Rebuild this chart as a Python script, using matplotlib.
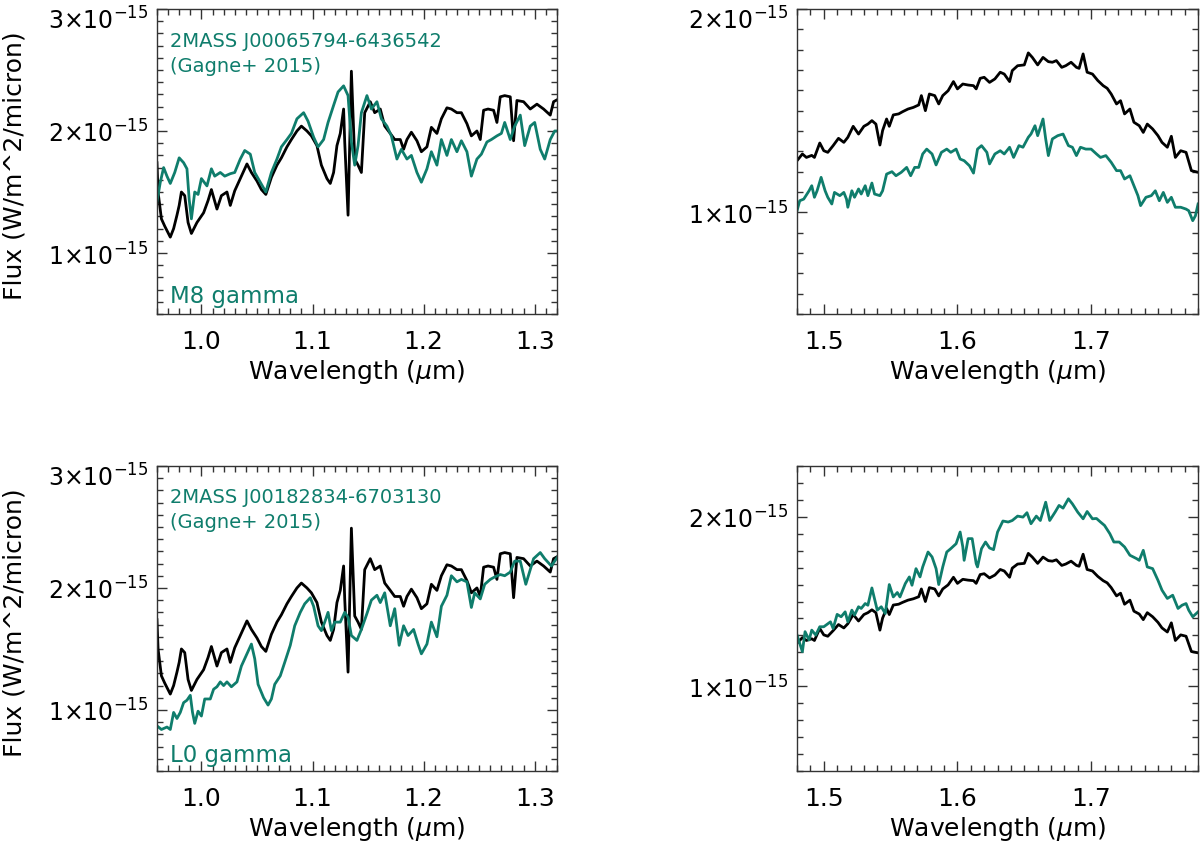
import numpy as np
import matplotlib

matplotlib.use("Agg")
import matplotlib.pyplot as plt
from matplotlib.ticker import MultipleLocator, FixedLocator, FuncFormatter

plt.rcParams.update({
    "font.family": "DejaVu Sans",
    "mathtext.fontset": "dejavusans",
    "font.size": 17,
})

TEAL = "#0f7d6c"
SCALE = 1e-15

# --- J band, target (black) ---
wl_j_obj = [0.960, 0.961, 0.964, 0.967, 0.972, 0.975, 0.978, 0.980, 0.982, 0.985,
            0.988, 0.991, 0.996, 1.002, 1.006, 1.009, 1.014, 1.018, 1.023, 1.026,
            1.030, 1.035, 1.041, 1.045, 1.050, 1.054, 1.058, 1.063, 1.068, 1.072,
            1.077, 1.081, 1.086, 1.090, 1.095, 1.099, 1.104, 1.108, 1.113, 1.116,
            1.119, 1.122, 1.125, 1.128, 1.129, 1.132, 1.135, 1.138, 1.141, 1.144,
            1.147, 1.152, 1.156, 1.161, 1.165, 1.170, 1.174, 1.179, 1.182, 1.185,
            1.189, 1.194, 1.198, 1.203, 1.207, 1.212, 1.216, 1.221, 1.225, 1.230,
            1.234, 1.239, 1.243, 1.248, 1.251, 1.254, 1.258, 1.263, 1.266, 1.269,
            1.273, 1.278, 1.281, 1.284, 1.290, 1.296, 1.302, 1.308, 1.314, 1.317,
            1.321]
fx_j_obj = [1.74, 1.50, 1.28, 1.22, 1.13, 1.20, 1.31, 1.39, 1.50, 1.47,
            1.25, 1.16, 1.25, 1.33, 1.43, 1.52, 1.36, 1.47, 1.50, 1.39,
            1.51, 1.61, 1.73, 1.66, 1.59, 1.52, 1.48, 1.62, 1.72, 1.78,
            1.87, 1.93, 2.00, 2.04, 2.00, 1.96, 1.88, 1.72, 1.61, 1.57,
            1.66, 1.88, 1.98, 2.18, 1.91, 1.31, 2.49, 1.77, 1.72, 1.66,
            2.15, 2.24, 2.15, 2.18, 2.04, 1.98, 1.93, 1.93, 1.85, 1.93,
            1.99, 1.92, 1.83, 1.87, 2.03, 1.98, 2.10, 2.19, 2.18, 2.15,
            2.15, 2.06, 1.96, 2.00, 1.93, 2.17, 2.18, 2.17, 2.07, 2.28,
            2.29, 2.28, 1.92, 2.25, 2.24, 2.18, 2.22, 2.18, 2.13, 2.24,
            2.26]

# --- J band, M8 gamma template ---
wl_j_m8 = [0.960, 0.963, 0.966, 0.969, 0.972, 0.976, 0.980, 0.984, 0.987, 0.989,
           0.991, 0.994, 0.997, 1.000, 1.005, 1.009, 1.012, 1.017, 1.021, 1.026,
           1.030, 1.035, 1.039, 1.044, 1.048, 1.053, 1.058, 1.063, 1.068, 1.072,
           1.077, 1.081, 1.086, 1.092, 1.096, 1.101, 1.105, 1.110, 1.114, 1.119,
           1.123, 1.128, 1.132, 1.135, 1.138, 1.141, 1.144, 1.149, 1.153, 1.158,
           1.162, 1.167, 1.171, 1.176, 1.180, 1.185, 1.189, 1.194, 1.198, 1.203,
           1.207, 1.212, 1.216, 1.221, 1.225, 1.230, 1.234, 1.239, 1.243, 1.248,
           1.252, 1.257, 1.261, 1.266, 1.270, 1.273, 1.278, 1.282, 1.287, 1.291,
           1.296, 1.300, 1.305, 1.309, 1.314, 1.318, 1.321]
fx_j_m8 = [1.42, 1.58, 1.70, 1.63, 1.57, 1.66, 1.78, 1.74, 1.69, 1.44,
           1.28, 1.50, 1.48, 1.61, 1.55, 1.69, 1.63, 1.66, 1.63, 1.65,
           1.66, 1.77, 1.84, 1.81, 1.66, 1.58, 1.50, 1.66, 1.77, 1.87,
           1.93, 1.98, 2.10, 2.15, 2.08, 1.95, 1.87, 1.93, 2.07, 2.21,
           2.32, 2.37, 2.29, 1.91, 1.72, 1.88, 2.15, 2.29, 2.18, 2.24,
           2.10, 2.04, 1.96, 1.77, 1.85, 1.77, 1.80, 1.66, 1.58, 1.69,
           1.83, 1.72, 1.93, 1.80, 1.93, 1.83, 1.92, 1.83, 1.63, 1.77,
           1.81, 1.91, 1.93, 1.96, 1.98, 2.07, 1.93, 2.04, 2.13, 1.88,
           2.04, 2.07, 1.85, 1.77, 1.93, 2.00, 2.00]

# --- J band, L0 gamma template ---
wl_j_l0 = [0.960, 0.964, 0.969, 0.972, 0.975, 0.978, 0.981, 0.984, 0.987, 0.990,
           0.992, 0.994, 0.997, 1.000, 1.003, 1.008, 1.011, 1.014, 1.017, 1.020,
           1.023, 1.027, 1.032, 1.036, 1.041, 1.045, 1.048, 1.051, 1.056, 1.060,
           1.063, 1.066, 1.071, 1.075, 1.080, 1.084, 1.089, 1.093, 1.098, 1.101,
           1.105, 1.108, 1.111, 1.114, 1.117, 1.120, 1.125, 1.129, 1.132, 1.135,
           1.140, 1.144, 1.149, 1.153, 1.158, 1.161, 1.165, 1.170, 1.174, 1.178,
           1.182, 1.186, 1.191, 1.195, 1.198, 1.203, 1.207, 1.212, 1.216, 1.221,
           1.225, 1.230, 1.234, 1.239, 1.243, 1.246, 1.251, 1.255, 1.260, 1.264,
           1.269, 1.273, 1.278, 1.282, 1.287, 1.292, 1.299, 1.305, 1.309, 1.315,
           1.321]
fx_j_l0 = [0.87, 0.84, 0.86, 0.84, 0.98, 0.93, 0.98, 1.06, 1.08, 1.12,
           0.98, 0.89, 0.99, 0.95, 1.09, 1.09, 1.17, 1.19, 1.23, 1.20,
           1.23, 1.19, 1.23, 1.36, 1.46, 1.54, 1.42, 1.21, 1.10, 1.04,
           1.09, 1.21, 1.28, 1.39, 1.53, 1.69, 1.80, 1.87, 1.92, 1.85,
           1.69, 1.65, 1.72, 1.80, 1.65, 1.72, 1.72, 1.80, 1.76, 1.61,
           1.57, 1.66, 1.79, 1.90, 1.94, 1.88, 1.96, 1.69, 1.83, 1.53,
           1.69, 1.61, 1.66, 1.54, 1.46, 1.54, 1.72, 1.60, 1.85, 1.94,
           2.10, 2.05, 2.07, 2.05, 1.84, 1.96, 1.91, 2.03, 2.07, 2.09,
           2.11, 2.10, 2.13, 2.22, 2.22, 2.03, 2.24, 2.29, 2.24, 2.18,
           2.26]

# --- H band, target (black) ---
wl_h_obj = [1.480, 1.484, 1.487, 1.491, 1.493, 1.497, 1.500, 1.503, 1.507, 1.511,
            1.515, 1.518, 1.522, 1.526, 1.530, 1.533, 1.536, 1.539, 1.542, 1.544,
            1.547, 1.549, 1.552, 1.556, 1.559, 1.563, 1.567, 1.571, 1.573, 1.576,
            1.579, 1.583, 1.586, 1.589, 1.593, 1.597, 1.600, 1.604, 1.608, 1.612,
            1.614, 1.617, 1.620, 1.624, 1.628, 1.632, 1.635, 1.639, 1.641, 1.645,
            1.650, 1.653, 1.656, 1.660, 1.664, 1.668, 1.671, 1.674, 1.678, 1.681,
            1.685, 1.689, 1.691, 1.694, 1.697, 1.701, 1.705, 1.709, 1.712, 1.715,
            1.719, 1.722, 1.725, 1.729, 1.732, 1.736, 1.739, 1.742, 1.746, 1.750,
            1.753, 1.757, 1.760, 1.763, 1.767, 1.771, 1.775, 1.780]
fx_h_obj = [1.254, 1.287, 1.270, 1.280, 1.270, 1.341, 1.303, 1.295, 1.328, 1.364,
            1.344, 1.369, 1.423, 1.385, 1.423, 1.434, 1.451, 1.434, 1.331, 1.402,
            1.459, 1.423, 1.479, 1.484, 1.495, 1.508, 1.516, 1.528, 1.574, 1.500,
            1.582, 1.574, 1.533, 1.574, 1.598, 1.643, 1.607, 1.631, 1.626, 1.623,
            1.607, 1.659, 1.664, 1.639, 1.656, 1.689, 1.680, 1.643, 1.697, 1.721,
            1.725, 1.784, 1.762, 1.725, 1.762, 1.741, 1.738, 1.746, 1.713, 1.721,
            1.738, 1.713, 1.708, 1.779, 1.689, 1.680, 1.648, 1.623, 1.610, 1.582,
            1.533, 1.549, 1.484, 1.508, 1.443, 1.426, 1.393, 1.434, 1.410, 1.377,
            1.344, 1.320, 1.374, 1.270, 1.303, 1.295, 1.205, 1.197]

# --- H band, M8 gamma template ---
wl_h_m8 = [1.480, 1.482, 1.485, 1.489, 1.491, 1.493, 1.495, 1.498, 1.501, 1.503,
           1.506, 1.508, 1.512, 1.515, 1.517, 1.518, 1.521, 1.523, 1.526, 1.528,
           1.531, 1.533, 1.536, 1.538, 1.542, 1.544, 1.547, 1.551, 1.554, 1.558,
           1.562, 1.565, 1.568, 1.571, 1.574, 1.577, 1.581, 1.584, 1.588, 1.592,
           1.595, 1.599, 1.602, 1.605, 1.609, 1.612, 1.615, 1.618, 1.622, 1.624,
           1.628, 1.632, 1.635, 1.639, 1.642, 1.646, 1.649, 1.653, 1.655, 1.658,
           1.660, 1.664, 1.666, 1.668, 1.671, 1.675, 1.679, 1.683, 1.686, 1.689,
           1.692, 1.696, 1.700, 1.704, 1.707, 1.711, 1.715, 1.719, 1.722, 1.725,
           1.729, 1.732, 1.735, 1.737, 1.741, 1.745, 1.748, 1.751, 1.754, 1.757,
           1.760, 1.763, 1.767, 1.771, 1.773, 1.776, 1.778, 1.780]
fx_h_m8 = [1.008, 1.057, 1.065, 1.106, 1.131, 1.074, 1.106, 1.172, 1.106, 1.074,
           1.041, 1.098, 1.082, 1.098, 1.065, 1.025, 1.106, 1.074, 1.115, 1.090,
           1.131, 1.082, 1.144, 1.090, 1.082, 1.106, 1.188, 1.200, 1.180, 1.197,
           1.221, 1.180, 1.221, 1.221, 1.287, 1.311, 1.287, 1.233, 1.295, 1.311,
           1.295, 1.311, 1.262, 1.254, 1.229, 1.193, 1.311, 1.328, 1.295, 1.238,
           1.287, 1.303, 1.287, 1.320, 1.270, 1.328, 1.320, 1.369, 1.385, 1.426,
           1.377, 1.459, 1.361, 1.279, 1.361, 1.377, 1.385, 1.328, 1.320, 1.279,
           1.320, 1.311, 1.311, 1.287, 1.270, 1.279, 1.246, 1.205, 1.205, 1.164,
           1.180, 1.131, 1.082, 1.033, 1.074, 1.082, 1.106, 1.057, 1.098, 1.049,
           1.074, 1.025, 1.025, 1.016, 1.008, 0.959, 0.983, 1.041]

# --- H band, L0 gamma template ---
wl_h_l0 = [1.480, 1.484, 1.486, 1.489, 1.491, 1.494, 1.497, 1.500, 1.505, 1.507,
           1.510, 1.513, 1.516, 1.518, 1.521, 1.523, 1.526, 1.528, 1.531, 1.533,
           1.536, 1.540, 1.543, 1.546, 1.549, 1.552, 1.555, 1.557, 1.561, 1.564,
           1.566, 1.569, 1.572, 1.574, 1.578, 1.581, 1.584, 1.586, 1.589, 1.592,
           1.595, 1.599, 1.602, 1.604, 1.605, 1.608, 1.611, 1.614, 1.615, 1.618,
           1.621, 1.624, 1.627, 1.630, 1.634, 1.638, 1.641, 1.645, 1.649, 1.652,
           1.655, 1.659, 1.662, 1.666, 1.669, 1.673, 1.676, 1.679, 1.683, 1.686,
           1.690, 1.694, 1.697, 1.701, 1.704, 1.707, 1.710, 1.714, 1.717, 1.721,
           1.725, 1.729, 1.734, 1.736, 1.739, 1.742, 1.746, 1.750, 1.753, 1.757,
           1.761, 1.765, 1.768, 1.771, 1.773, 1.776, 1.780]
fx_h_l0 = [1.302, 1.204, 1.322, 1.273, 1.331, 1.302, 1.351, 1.351, 1.380, 1.341,
           1.424, 1.410, 1.439, 1.380, 1.449, 1.420, 1.469, 1.459, 1.488, 1.478,
           1.580, 1.449, 1.469, 1.429, 1.600, 1.527, 1.553, 1.527, 1.606, 1.645,
           1.596, 1.694, 1.645, 1.704, 1.792, 1.763, 1.694, 1.600, 1.704, 1.792,
           1.812, 1.841, 1.910, 1.822, 1.743, 1.871, 1.871, 1.724, 1.704, 1.812,
           1.851, 1.816, 1.806, 1.910, 1.975, 1.969, 1.978, 2.004, 1.998, 2.024,
           1.959, 2.004, 1.978, 2.086, 1.978, 2.027, 2.067, 2.051, 2.106, 2.076,
           2.027, 1.988, 2.031, 1.988, 1.990, 1.969, 1.949, 1.900, 1.851, 1.851,
           1.822, 1.773, 1.753, 1.743, 1.802, 1.704, 1.694, 1.625, 1.567, 1.518,
           1.537, 1.459, 1.478, 1.488, 1.449, 1.410, 1.439]

# x tick labels and y major ticks (in units of 1e-15) per panel
xticks_j = [1.0, 1.1, 1.2, 1.3]
xticks_h = [1.5, 1.6, 1.7]

panels = [
    # rect, x range, y range, x ticks, y ticks, object spectrum, template
    ([0.1308, 0.6307, 0.3333, 0.3576], (0.96, 1.32), (0.5, 3.0), xticks_j, [1, 2, 3],
     (wl_j_obj, fx_j_obj), (wl_j_m8, fx_j_m8)),
    ([0.6642, 0.6307, 0.3342, 0.3576], (1.48, 1.78), (0.5, 2.0), xticks_h, [1, 2],
     (wl_h_obj, fx_h_obj), (wl_h_m8, fx_h_m8)),
    ([0.1308, 0.0950, 0.3333, 0.3576], (0.96, 1.32), (0.5, 3.0), xticks_j, [1, 2, 3],
     (wl_j_obj, fx_j_obj), (wl_j_l0, fx_j_l0)),
    ([0.6642, 0.0950, 0.3342, 0.3576], (1.48, 1.78), (0.5, 2.3), xticks_h, [1, 2],
     (wl_h_obj, fx_h_obj), (wl_h_l0, fx_h_l0)),
]


def sci_label(n):
    return r"$%d{\times}10^{-15}$" % n


fig = plt.figure(figsize=(12, 8.53), dpi=100)
axes = []
for rect, xr, yr, xt, yt, obj, tmpl in panels:
    ax = fig.add_axes(rect)
    ax.plot(obj[0], np.array(obj[1]) * SCALE, color="black", lw=2.0)
    ax.plot(tmpl[0], np.array(tmpl[1]) * SCALE, color=TEAL, lw=2.0)
    ax.set_xlim(*xr)
    ax.set_ylim(yr[0] * SCALE, yr[1] * SCALE)
    ax.xaxis.set_major_locator(FixedLocator(xt))
    ax.xaxis.set_minor_locator(MultipleLocator(0.01))
    ax.xaxis.set_major_formatter(FuncFormatter(lambda v, p: "%.1f" % v))
    # IDL pushes the label at the very top of the axis down: drawn by hand
    ylabels = ["" if n == yr[1] else sci_label(n) for n in yt]
    ax.set_yticks([n * SCALE for n in yt], ylabels)
    ax.yaxis.set_minor_locator(MultipleLocator(0.1 * SCALE))
    ax.tick_params(which="both", direction="in", top=True, right=True,
                   color="#333333", width=1.0)
    ax.tick_params(which="major", length=7, labelsize=17)
    ax.tick_params(axis="x", which="major", labelsize=18, pad=11)
    ax.tick_params(axis="y", which="major", pad=6)
    ax.tick_params(which="minor", length=4)
    for s in ax.spines.values():
        s.set_color("#333333")
        s.set_linewidth(1.0)
    ax.set_xlabel(r"Wavelength ($\mu$m)", fontsize=18, labelpad=3)
    if yr[1] in yt:
        ax.annotate(sci_label(int(yr[1])), xy=(0, 1), xycoords="axes fraction",
                    xytext=(-6, 2), textcoords="offset points",
                    ha="right", va="top", fontsize=17)
    axes.append(ax)

for ax in (axes[0], axes[2]):
    ax.set_ylabel("Flux (W/m^2/micron)", fontsize=18)
    ax.yaxis.set_label_coords(-0.325, 0.49)

axes[0].text(0.0325, 0.879, "2MASS J00065794-6436542", color=TEAL,
             fontsize=14, transform=axes[0].transAxes, va="baseline")
axes[0].text(0.0325, 0.797, "(Gagne+ 2015)", color=TEAL,
             fontsize=14, transform=axes[0].transAxes, va="baseline")
axes[0].text(0.0325, 0.039, "M8 gamma", color=TEAL,
             fontsize=16.5, transform=axes[0].transAxes, va="baseline")

axes[2].text(0.0325, 0.882, "2MASS J00182834-6703130", color=TEAL,
             fontsize=14, transform=axes[2].transAxes, va="baseline")
axes[2].text(0.0325, 0.800, "(Gagne+ 2015)", color=TEAL,
             fontsize=14, transform=axes[2].transAxes, va="baseline")
axes[2].text(0.0325, 0.033, "L0 gamma", color=TEAL,
             fontsize=16.5, transform=axes[2].transAxes, va="baseline")

fig.savefig("out.png", dpi=100, facecolor="white")
plt.close(fig)
